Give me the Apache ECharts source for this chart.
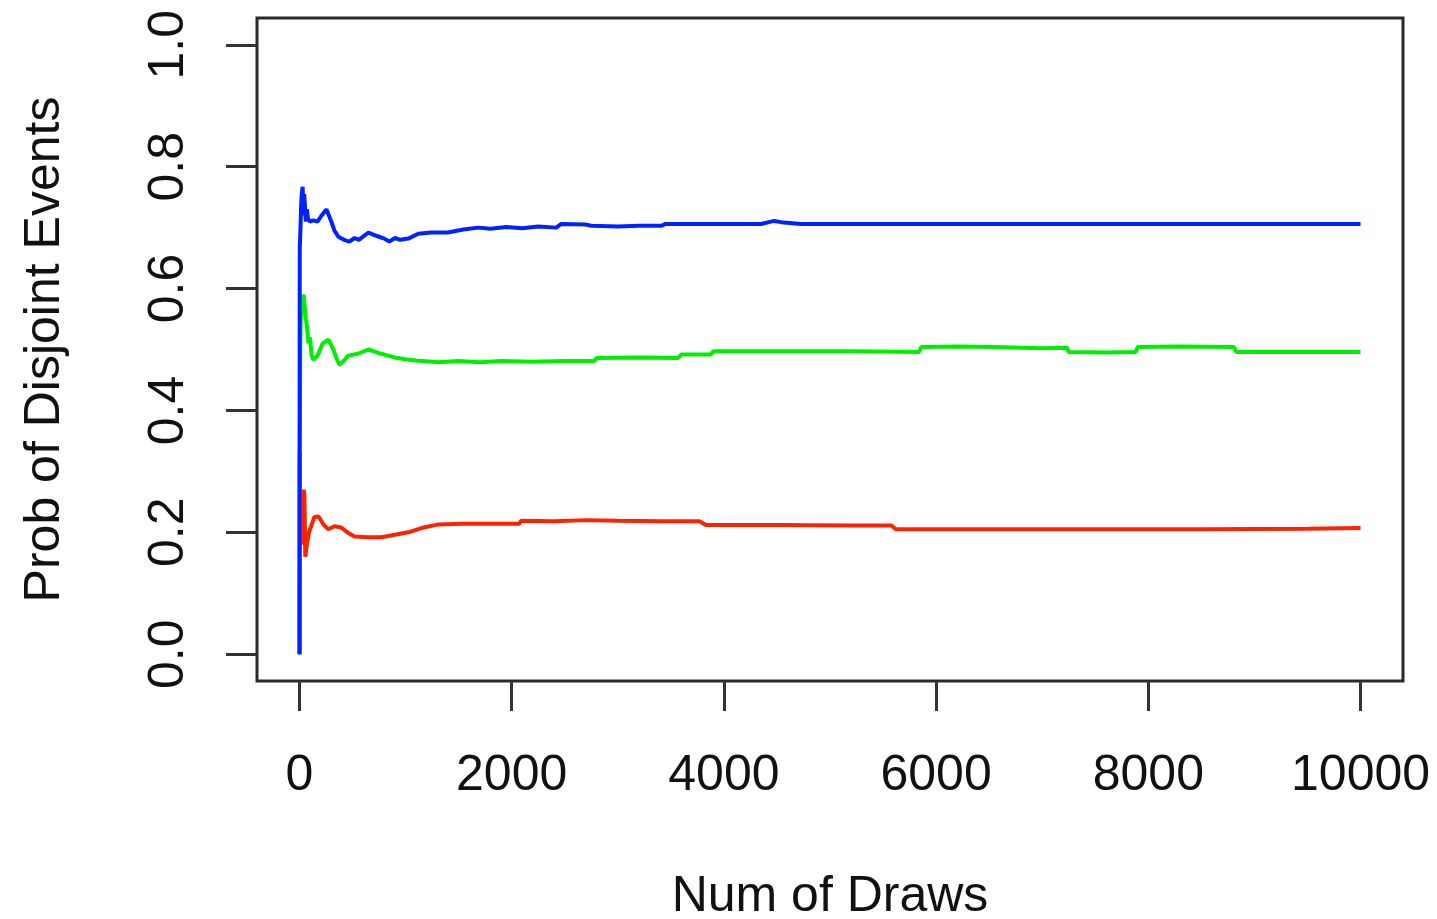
<!DOCTYPE html>
<html><head><meta charset="utf-8">
<script src="https://cdn.jsdelivr.net/npm/echarts@6/dist/echarts.min.js"></script>
<style>html,body{margin:0;padding:0;background:#fff}#c{width:1437px;height:919px}</style>
</head><body><div id="c"></div>
<script>
// Data: [draw number, cumulative probability]
var blueSeries = [[1,0],[2,0.5],[3,0.667],[6,0.667],[10,0.7],[15,0.733],[20,0.75],[25,0.76],[30,0.767],[35,0.74],[40,0.72],[45,0.755],[50,0.74],[60,0.71],[70,0.73],[80,0.715],[100,0.71],[130,0.712],[170,0.71],[210,0.72],[254,0.73],[300,0.71],[330,0.695],[367,0.685],[420,0.68],[470,0.677],[520,0.683],[560,0.68],[650,0.692],[700,0.688],[750,0.685],[800,0.682],[847,0.677],[900,0.683],[950,0.68],[1026,0.682],[1120,0.69],[1243,0.692],[1400,0.692],[1544,0.697],[1685,0.7],[1800,0.698],[1950,0.701],[2100,0.699],[2250,0.702],[2420,0.7],[2467,0.706],[2700,0.705],[2750,0.703],[3000,0.702],[3200,0.703],[3409,0.703],[3450,0.706],[3900,0.706],[4350,0.706],[4473,0.711],[4540,0.709],[4727,0.706],[5500,0.706],[6500,0.706],[7500,0.706],[8500,0.706],[10000,0.706]];
var greenSeries = [[1,0],[2,0],[3,0.333],[5,0.4],[8,0.5],[12,0.55],[20,0.57],[30,0.58],[40,0.59],[50,0.593],[55,0.56],[60,0.55],[70,0.54],[85,0.51],[100,0.52],[115,0.49],[130,0.483],[170,0.49],[220,0.51],[273,0.516],[320,0.5],[350,0.485],[377,0.475],[420,0.482],[460,0.49],[550,0.493],[650,0.5],[750,0.494],[895,0.487],[1000,0.484],[1100,0.482],[1309,0.479],[1500,0.481],[1700,0.479],[1900,0.481],[2200,0.48],[2500,0.481],[2778,0.481],[2800,0.486],[3200,0.487],[3569,0.486],[3600,0.492],[3879,0.492],[3900,0.497],[4500,0.497],[5200,0.497],[5838,0.496],[5860,0.504],[6200,0.505],[6544,0.504],[6560,0.503],[7000,0.502],[7232,0.503],[7250,0.496],[7600,0.495],[7881,0.496],[7900,0.504],[8300,0.505],[8804,0.504],[8830,0.496],[9400,0.496],[10000,0.496]];
var redSeries = [[1,0],[3,0.333],[5,0.25],[10,0.2],[20,0.18],[30,0.25],[40,0.27],[47,0.26],[55,0.16],[70,0.18],[90,0.2],[110,0.21],[140,0.225],[180,0.226],[230,0.212],[273,0.205],[330,0.21],[395,0.208],[450,0.2],[518,0.193],[650,0.192],[772,0.192],[900,0.196],[1026,0.2],[1150,0.207],[1309,0.213],[1540,0.214],[2070,0.214],[2090,0.219],[2400,0.218],[2700,0.22],[3000,0.219],[3400,0.218],[3770,0.218],[3830,0.212],[4500,0.212],[5200,0.211],[5580,0.211],[5620,0.205],[6500,0.205],[7500,0.205],[8500,0.205],[9500,0.206],[10000,0.207]];
var xTicks = [0,2000,4000,6000,8000,10000];
var yTicks = [0,0.2,0.4,0.6,0.8,1.0];
var xTitle = 'Num of Draws';
var yTitle = 'Prob of Disjoint Events';

var font = 'Liberation Sans, Arial, Helvetica, sans-serif';
var chart = echarts.init(document.getElementById('c'), null, {renderer:'canvas'});
function line(data, color){
  return {type:'line', data:data, showSymbol:false, symbol:'none', animation:false,
    lineStyle:{color:color, width:4}, itemStyle:{color:color}};
}
chart.setOption({
  animation:false,
  backgroundColor:'#fff',
  grid:{left:257, right:34, top:18, bottom:238, outerBoundsMode:'none', containLabel:false,
    show:true, borderColor:'#2a2a2a', borderWidth:3, backgroundColor:'transparent'},
  xAxis:{type:'value', min:-400, max:10400,
    axisLine:{show:false, onZero:false},
    splitLine:{show:false},
    axisTick:{show:true, length:30, inside:false, customValues:xTicks, lineStyle:{color:'#333', width:3}},
    axisLabel:{customValues:xTicks, margin:70, fontSize:50, color:'#111', fontFamily:font,
      formatter:function(v){return String(v);}},
    name:xTitle, nameLocation:'middle', nameGap:191,
    nameTextStyle:{fontSize:50, color:'#111', fontFamily:font}
  },
  yAxis:{type:'value', min:-0.044, max:1.044,
    axisLine:{show:false, onZero:false},
    splitLine:{show:false},
    axisTick:{show:true, length:31, inside:false, customValues:yTicks, lineStyle:{color:'#333', width:3}},
    axisLabel:{customValues:yTicks, rotate:90, margin:63, fontSize:50, color:'#111', fontFamily:font,
      formatter:function(v){return v.toFixed(1);}},
    name:yTitle, nameLocation:'middle', nameGap:187, nameRotate:90,
    nameTextStyle:{fontSize:50, color:'#111', fontFamily:font}
  },
  series:[line(redSeries,'#ff2200'), line(greenSeries,'#00ee00'), line(blueSeries,'#0022ff')]
});
</script></body></html>
